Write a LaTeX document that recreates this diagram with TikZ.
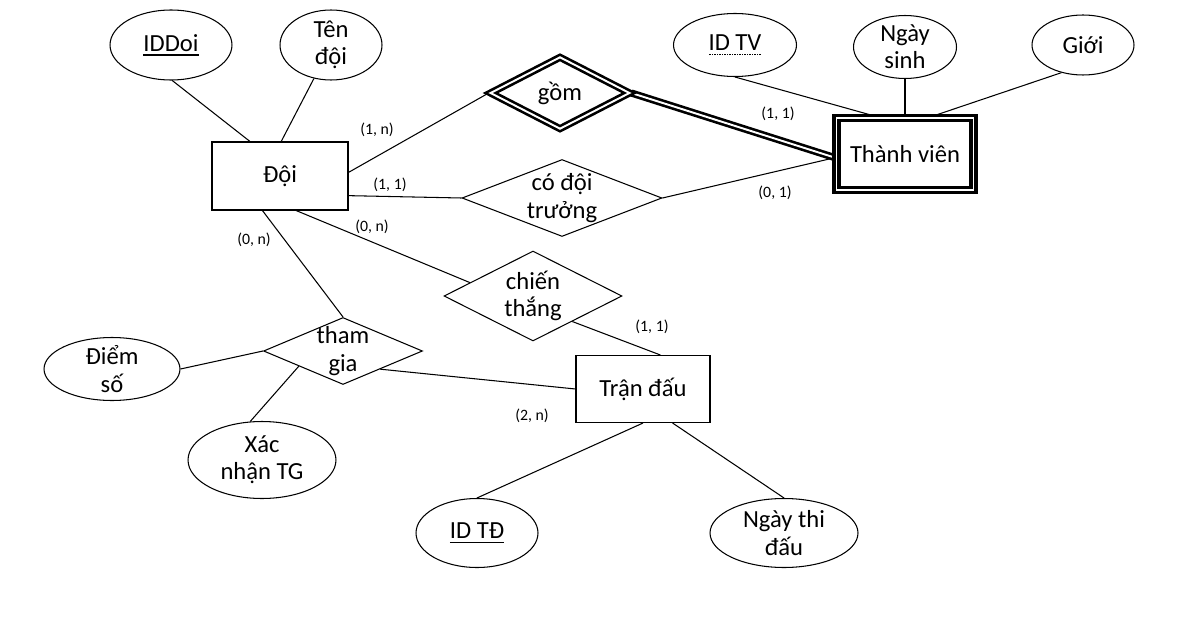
\documentclass[tikz,border=0pt]{standalone}
\usepackage{fontspec}
\setmainfont{Carlito}
\usetikzlibrary{shapes.geometric,backgrounds}
\newcommand{\keyul}[1]{\setbox0\hbox{#1}\rlap{\rule[-2.4pt]{\wd0}{0.7pt}}\box0}
\newcommand{\partkeyul}[1]{\setbox0\hbox{#1}%
  \rlap{\raisebox{-2.6pt}{\hbox to \wd0{\xleaders\hbox to 1.4pt{\hss\rule{0.8pt}{0.8pt}\hss}\hfill}}}\box0}
\tikzset{
  txt/.style={font=\fontsize{14pt}{15.5pt}\selectfont, align=center},
  card/.style={font=\fontsize{9pt}{11pt}\selectfont},
  entity/.style 2 args={txt, draw, line width=0.6pt, minimum width=#1, minimum height=#2},
  weakentity/.style 2 args={txt, draw, line width=1.8pt, double, double distance=1.1pt,
    minimum width=#1, minimum height=#2},
  attrib/.style 2 args={txt, draw, ellipse, line width=0.6pt, inner sep=-2.5mm,
    minimum width=#1, minimum height=#2},
  rel/.style 2 args={txt, draw, diamond, aspect=2, line width=0.6pt, inner sep=-2.5mm,
    minimum width=#1, minimum height=#2},
  weakrel/.style 2 args={rel={#1}{#2}, line width=1.5pt, double, double distance=1.1pt},
  link/.style={line width=0.6pt},
  idlink/.style={line width=1.5pt, double, double distance=1.1pt}
}

\begin{document}
\begin{tikzpicture}[x=0.02cm, y=-0.02cm]

% Doi
\node[attrib={2.44cm}{1.40cm}] (iddoi) at (171,45) {\keyul{IDDoi}};
\node[attrib={2.04cm}{1.40cm}] (tendoi) at (331,45) {Tên\\đội};
\node[entity={2.72cm}{1.36cm}] (doi) at (280,176) {Đội};

% Thanh vien
\node[weakentity={2.74cm}{1.43cm}] (tv) at (905,154) {Thành viên};
\node[attrib={2.46cm}{1.26cm}] (idtv) at (735,45) {\partkeyul{ID TV}};
\node[attrib={2.06cm}{1.26cm}] (ngaysinh) at (905,47) {Ngày\\sinh};
\node[attrib={2.04cm}{1.20cm}] (gioi) at (1083,45) {Giới};

% Tran dau
\node[entity={2.68cm}{1.34cm}] (td) at (643,389) {Trận đấu};
\node[attrib={2.44cm}{1.38cm}] (idtd) at (477,533) {\keyul{ID TĐ}};
\node[attrib={2.96cm}{1.38cm}] (ngaytd) at (784,533) {Ngày thi\\đấu};

% quan he
\node[weakrel={2.80cm}{1.45cm}] (gom) at (560,93) {gồm};
\node[rel={4.00cm}{1.54cm}] (cdt) at (562,198) {có đội\\trưởng};
\node[rel={3.56cm}{1.80cm}] (ct) at (533,296) {chiến\\thắng};
\node[rel={3.18cm}{1.34cm}] (tg) at (343,351) {tham\\gia};
\node[attrib={2.72cm}{1.26cm}] (diemso) at (112,369) {Điểm\\số};
\node[attrib={2.96cm}{1.54cm}] (xntg) at (262,460) {Xác\\nhận TG};

\begin{scope}[on background layer]
  \path[fill=white] (0,0) rectangle (1196,642);
  \draw[link] (iddoi.-88) -- (doi.131);
  \draw[link] (tendoi.-117) -- (doi.88);
  \draw[link] (doi.3) -- (gom.west);
  \draw[idlink] (gom.east) -- (tv.183);
  \draw[link] (doi.-16) -- (cdt.west);
  \draw[link] (cdt.east) -- (tv.183);
  \draw[link] (doi.-65) -- (ct.168);
  \draw[link] (ct.-33) -- (td.63);
  \draw[link] (doi.-117) -- (tg.north);
  \draw[link] (tg.-26) -- (td.west);
  \draw[link] (diemso.east) -- (tg.west);
  \draw[link] (xntg.107) -- (tg.199);
  \draw[link] (td.south) -- (idtd.north);
  \draw[link] (td.-49) -- (ngaytd.north);
  \draw[link] (idtv.south) -- (tv.127);
  \draw[link] (ngaysinh.south) -- (tv.north);
  \draw[link] (gioi.-128) -- (tv.55);
\end{scope}

% cardinalities
\node[card] (kgom1) at (377,130) {(1, n)};
\node[card] (kgom2) at (778,114) {(1, 1)};
\node[card] (kcdt1) at (390,185) {(1, 1)};
\node[card] (kcdt2) at (775,193) {(0, 1)};
\node[card] (ktg1) at (254,240) {(0, n)};
\node[card] (kct1) at (372,227) {(0, n)};
\node[card] (kct2) at (652,327) {(1, 1)};
\node[card] (ktg2) at (532,416) {(2, n)};

\end{tikzpicture}
\end{document}
